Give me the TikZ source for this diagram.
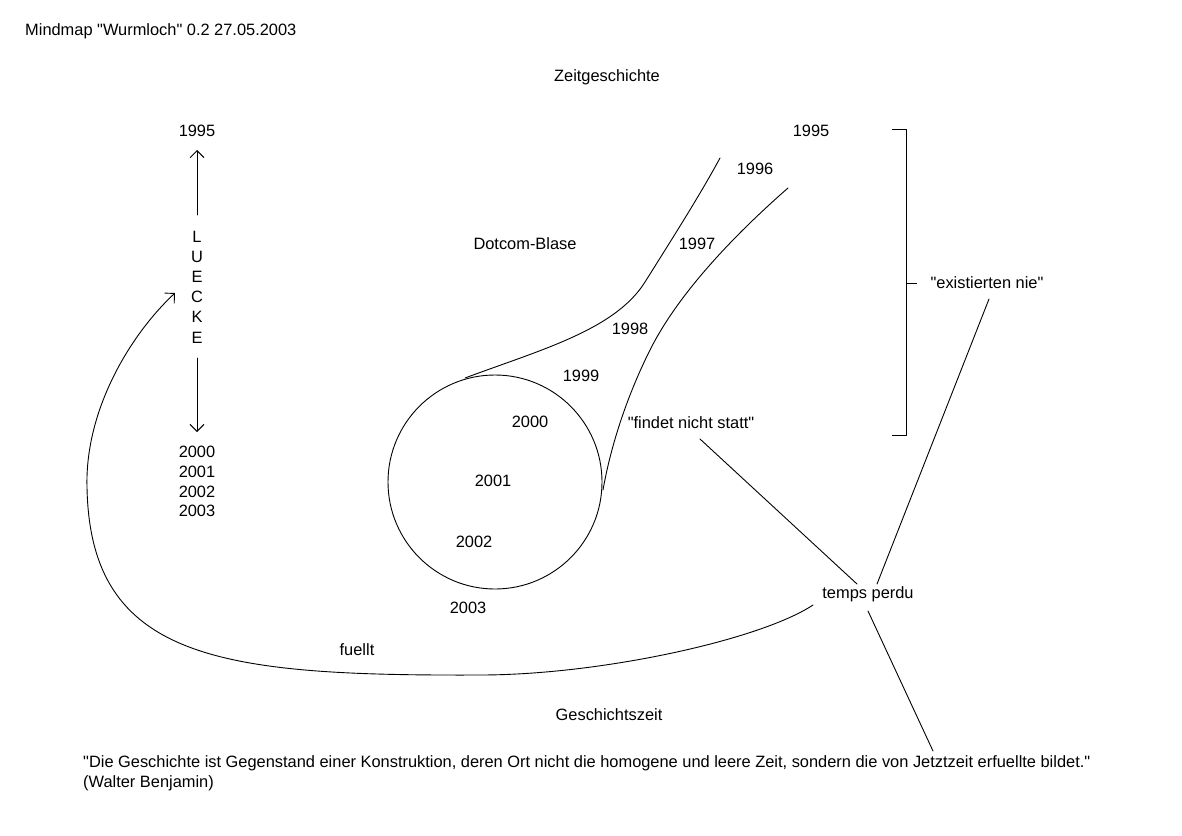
\documentclass[tikz,border=0pt]{standalone}
\usepackage{fontspec}
\setmainfont{Liberation Sans}[Ligatures=TeXOff]
\usetikzlibrary{arrows.meta}
\begin{document}
\begin{tikzpicture}[x=1pt,y=-1pt,
  every node/.style={font=\fontsize{16.4pt}{20pt}\selectfont, inner sep=0pt},
  ln/.style={line width=0.9pt, line cap=round, line join=round},
  barb/.style={-{Straight Barb[length=7pt,width=14pt,line width=0.9pt]}}]
\useasboundingbox[fill=white] (0,0) rectangle (1182,835);

% texts
\node[anchor=west] (title) at (25,31) {Mindmap "Wurmloch" 0.2 27.05.2003};
\node (zg) at (607,77) {Zeitgeschichte};
\node (l1995) at (197,131) {1995};
\node[align=center, font=\fontsize{16.4pt}{20.2pt}\selectfont] (luecke) at (197,287) {L\\U\\E\\C\\K\\E};
\node[align=center, font=\fontsize{16.4pt}{19.7pt}\selectfont] (lyears) at (197,481.5) {2000\\2001\\2002\\2003};
\node (r1995) at (811,131) {1995};
\node (y1996) at (755,169) {1996};
\node (dotcom) at (525,244) {Dotcom-Blase};
\node (y1997) at (697,244) {1997};
\node (y1998) at (630,329) {1998};
\node (y1999) at (581,376) {1999};
\node (y2000) at (530,422) {2000};
\node (findet) at (691,423) {"findet nicht statt"};
\node (y2001) at (493,481) {2001};
\node (y2002) at (474,542) {2002};
\node (y2003) at (468,608) {2003};
\node (exist) at (987,283) {"existierten nie"};
\node (temps) at (868,594) {temps perdu};
\node (fuellt) at (357,650) {fuellt};
\node (gz) at (609,715) {Geschichtszeit};
\node[anchor=west, align=left, font=\fontsize{16.4pt}{20pt}\selectfont] (quote) at (83,773)
  {"Die Geschichte ist Gegenstand einer Konstruktion, deren Ort nicht die homogene und leere Zeit, sondern die von Jetztzeit erfuellte bildet."\\(Walter Benjamin)};

% LUECKE arrows
\coordinate (lu1) at (197,215);
\coordinate (lu2) at (197,150);
\coordinate (ld1) at (197,358);
\coordinate (ld2) at (197,432);
\draw[ln,barb] (lu1) -- (lu2);
\draw[ln,barb] (ld1) -- (ld2);

% wormhole
\node[draw, line width=0.9pt, circle, minimum size=214pt] (hole) at (495,482) {};
\coordinate (u0) at (465,378);
\coordinate (u1) at (645,282);
\coordinate (u2) at (720,158);
\draw[ln] (u0) .. controls (540,350) and (615,330) .. (u1)
               .. controls (672,239) and (700,195) .. (u2);
\coordinate (w0) at (788,188);
\coordinate (w1) at (650,350);
\coordinate (w2) at (603,490);
\draw[ln] (w0) .. controls (740,230) and (680,290) .. (w1)
               .. controls (625,400) and (610,450) .. (w2);

% bracket
\coordinate (b1) at (892,129);
\coordinate (b2) at (906,129);
\coordinate (b3) at (906,435);
\coordinate (b4) at (892,435);
\coordinate (bm) at (906,283);
\coordinate (bt) at (917,283);
\draw[ln, line cap=butt] (b1) -- (b2) -- (b3) -- (b4);
\draw[ln, line cap=butt] (bm) -- (bt);

% temps perdu connectors
\coordinate (f1) at (700,439);
\coordinate (t1) at (857,584);
\coordinate (t2) at (877,584);
\coordinate (e1) at (989,299);
\coordinate (t3) at (868,611);
\coordinate (q1) at (933,751);
\draw[ln] (f1) -- (t1);
\draw[ln] (t2) -- (e1);
\draw[ln] (t3) -- (q1);

% fuellt curve
\coordinate (c0) at (813,605);
\coordinate (c1) at (480,675);
\coordinate (c2) at (87,487);
\coordinate (c3) at (175,293);
\draw[ln,barb] (c0) .. controls (760,640) and (600,675) .. (c1)
                    .. controls (220,676) and (90,660) .. (c2)
                    .. controls (85,410) and (130,335) .. (c3);
\end{tikzpicture}
\end{document}
